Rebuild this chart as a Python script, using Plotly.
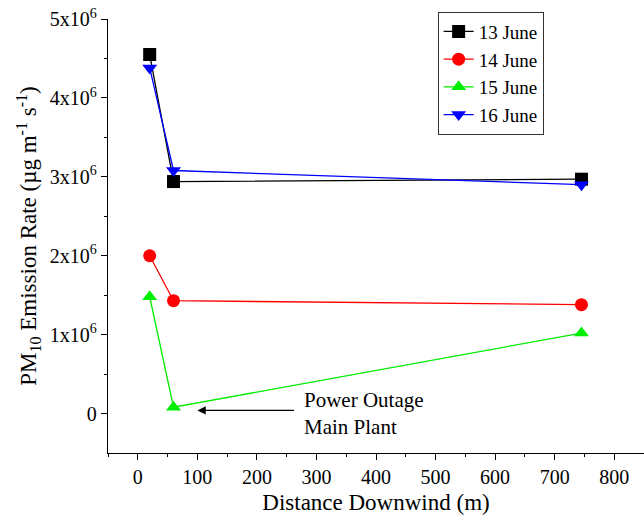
import plotly.graph_objects as go

distance = [20, 60, 745]
june13 = [4.55e6, 2.94e6, 2.97e6]
june14 = [2.00e6, 1.43e6, 1.38e6]
june15 = [1.48e6, 0.08e6, 1.02e6]
june16 = [4.38e6, 3.08e6, 2.90e6]

series_names = ["13 June", "14 June", "15 June", "16 June"]
series_vals = [june13, june14, june15, june16]
colors = ["#000000", "#ff0000", "#00ee00", "#0000ff"]
symbols = ["square", "circle", "triangle-up", "triangle-down"]

ytick_vals = [0, 1e6, 2e6, 3e6, 4e6, 5e6]
ytick_text = ["0", "1x10<sup>6</sup>", "2x10<sup>6</sup>", "3x10<sup>6</sup>",
              "4x10<sup>6</sup>", "5x10<sup>6</sup>"]
xtick_vals = [0, 100, 200, 300, 400, 500, 600, 700, 800]

FONT = "Liberation Serif"

fig = go.Figure()
for name, vals, c, s in zip(series_names, series_vals, colors, symbols):
    fig.add_trace(go.Scatter(
        x=distance, y=vals, name=name, mode="lines+markers",
        line=dict(color=c, width=1.3),
        marker=dict(symbol=s, size=13, color=c),
    ))

fig.add_annotation(x=100, y=0.04e6, ax=265, ay=0.04e6, xref="x", yref="y",
                   axref="x", ayref="y", text="", showarrow=True,
                   arrowhead=2, arrowsize=1.3, arrowwidth=1.3, arrowcolor="black")
fig.add_annotation(x=276, y=0.0, xref="x", yref="y", xanchor="left", yanchor="middle",
                   text="Power Outage<br>Main Plant", showarrow=False, align="left",
                   font=dict(family=FONT, size=21, color="black"))

fig.update_layout(
    width=644, height=517,
    margin=dict(l=108, r=0, t=19, b=64),
    paper_bgcolor="white", plot_bgcolor="white",
    font=dict(family=FONT, size=20, color="black"),
    showlegend=True,
    legend=dict(x=0.615, y=1.017, xanchor="left", yanchor="top",
                bgcolor="white", bordercolor="#333333", borderwidth=1,
                font=dict(family=FONT, size=19), tracegroupgap=0,
                itemwidth=30),
    xaxis=dict(range=[-50, 850], tickvals=xtick_vals, showgrid=False, zeroline=False,
               showline=True, linecolor="black", linewidth=1.3,
               ticks="outside", ticklen=6, tickwidth=1.3, tickcolor="black",
               minor=dict(ticks="outside", ticklen=3, tickwidth=1.2, tickcolor="black",
                          dtick=100, tick0=50),
               title=dict(text="Distance Downwind (m)", font=dict(family=FONT, size=23),
                          standoff=6),
               tickfont=dict(family=FONT, size=20)),
    yaxis=dict(range=[-0.5e6, 5e6], tickvals=ytick_vals, ticktext=ytick_text,
               showgrid=False, zeroline=False,
               showline=True, linecolor="black", linewidth=1.3,
               ticks="outside", ticklen=6, tickwidth=1.3, tickcolor="black",
               minor=dict(ticks="outside", ticklen=3, tickwidth=1.2, tickcolor="black",
                          tickvals=[0.5e6, 1.5e6, 2.5e6, 3.5e6, 4.5e6]),
               title=dict(text="PM<sub>10</sub> Emission Rate (µg m<sup>-1</sup> s<sup>-1</sup>)",
                          font=dict(family=FONT, size=23), standoff=6),
               tickfont=dict(family=FONT, size=20)),
)

fig.write_html("out.html")
